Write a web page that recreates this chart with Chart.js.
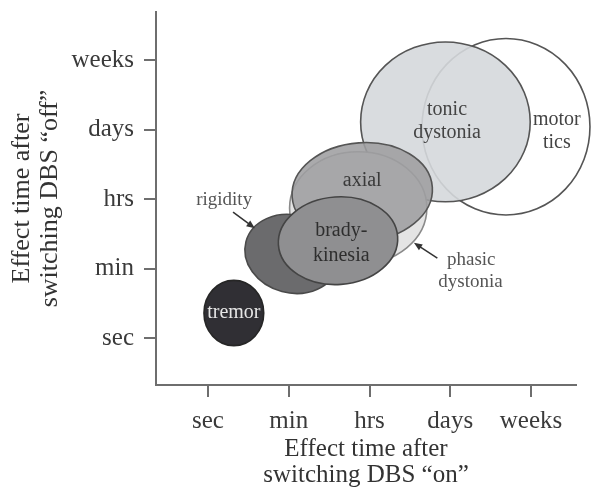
<!DOCTYPE html>
<html>
<head>
<meta charset="utf-8">
<script src="https://cdn.jsdelivr.net/npm/chart.js@4.4.0/dist/chart.umd.min.js"></script>
<style>
  html, body { margin: 0; padding: 0; background: #fff; }
  #wrap { width: 600px; height: 502px; }
</style>
</head>
<body>
<div id="wrap"><canvas id="myChart"></canvas></div>
<script>
// time categories on both axes (0 = sec ... 4 = weeks)
const timeLabels = ['sec', 'min', 'hrs', 'days', 'weeks'];

// symptoms, in drawing order (back to front)
const symptoms = ['motor tics', 'tonic dystonia', 'phasic dystonia', 'axial', 'rigidity', 'bradykinesia', 'tremor'];
const onCenter  = [3.69, 2.94, 1.86, 1.91, 1.04, 1.61, 0.32];   // effect time after "on"
const offCenter = [3.04, 3.11, 1.87, 2.10, 1.21, 1.40, 0.36];   // effect time after "off"
const onSpread  = [1.04, 1.05, 0.85, 0.87, 0.59, 0.74, 0.37];
const offSpread = [1.27, 1.15, 0.81, 0.71, 0.56, 0.63, 0.47];
const tiltDeg   = [0, 0, 0, -4, 15, -4, 0];

// text labels inside / next to the ellipses
const labelText = ['motor', 'tics', 'tonic', 'dystonia', 'axial', 'brady-', 'kinesia', 'tremor', 'rigidity', 'phasic', 'dystonia'];
const labelOn   = [4.32, 4.32, 2.96, 2.96, 1.91, 1.65, 1.65, 0.32, 0.20, 3.26, 3.25];
const labelOff  = [3.14, 2.81, 3.28, 2.95, 2.27, 1.54, 1.19, 0.36, 1.99, 1.12, 0.81];

// arrows: [fromOn, fromOff, toOn, toOff]
const arrows = [
  [0.31, 1.81, 0.58, 1.58],
  [2.84, 1.15, 2.55, 1.37]
];

const fills   = ['#ffffff', 'rgba(213,216,220,0.9)', '#e4e4e4', 'rgba(158,158,160,0.88)', '#6b6b6d', '#8f8f91', '#302f34'];
const strokes = ['#555555', '#555555', '#8a8a8a', '#555555', '#4a4a4a', '#444444', '#262626'];
const labelColors = ['#444444', '#444444', '#444444', '#444444', '#3a3a3a', '#2e2e2e', '#2e2e2e', '#e6e6e6', '#555555', '#555555', '#555555'];

const serif = 'Liberation Serif';
const axisColor = '#6e6e6e';

const ellipsePlugin = {
  id: 'ellipses',
  beforeDatasetsDraw(chart) {
    const { ctx, scales: { x, y } } = chart;
    symptoms.forEach((name, i) => {
      const cx = x.getPixelForValue(onCenter[i]);
      const cy = y.getPixelForValue(offCenter[i]);
      const rx = x.getPixelForValue(onCenter[i] + onSpread[i]) - cx;
      const ry = cy - y.getPixelForValue(offCenter[i] + offSpread[i]);
      ctx.save();
      ctx.beginPath();
      ctx.ellipse(cx, cy, rx, ry, tiltDeg[i] * Math.PI / 180, 0, 2 * Math.PI);
      ctx.fillStyle = fills[i];
      ctx.fill();
      ctx.lineWidth = 1.6;
      ctx.strokeStyle = strokes[i];
      ctx.stroke();
      ctx.restore();
    });
  },
  afterDatasetsDraw(chart) {
    const { ctx, scales: { x, y } } = chart;
    ctx.save();
    ctx.textAlign = 'center';
    ctx.textBaseline = 'middle';
    labelText.forEach((t, i) => {
      const small = i >= 8;
      ctx.font = (small ? '19px ' : '20px ') + serif;
      ctx.fillStyle = labelColors[i];
      ctx.fillText(t, x.getPixelForValue(labelOn[i]), y.getPixelForValue(labelOff[i]));
    });
    // arrows
    ctx.strokeStyle = '#333';
    ctx.fillStyle = '#333';
    ctx.lineWidth = 1.5;
    arrows.forEach(a => {
      const x1 = x.getPixelForValue(a[0]), y1 = y.getPixelForValue(a[1]);
      const x2 = x.getPixelForValue(a[2]), y2 = y.getPixelForValue(a[3]);
      const ang = Math.atan2(y2 - y1, x2 - x1);
      ctx.beginPath();
      ctx.moveTo(x1, y1);
      ctx.lineTo(x2 - 6 * Math.cos(ang), y2 - 6 * Math.sin(ang));
      ctx.stroke();
      ctx.beginPath();
      ctx.moveTo(x2, y2);
      ctx.lineTo(x2 - 9 * Math.cos(ang - 0.4), y2 - 9 * Math.sin(ang - 0.4));
      ctx.lineTo(x2 - 9 * Math.cos(ang + 0.4), y2 - 9 * Math.sin(ang + 0.4));
      ctx.closePath();
      ctx.fill();
    });
    ctx.restore();
  }
};

const fixedTicks = scale => { scale.ticks = timeLabels.map((l, i) => ({ value: i })); };
const noEdgePadding = scale => {
  scale.paddingTop = 0; scale.paddingBottom = 0;
  scale.paddingLeft = 0; scale.paddingRight = 0;
};

new Chart(document.getElementById('myChart'), {
  type: 'scatter',
  data: {
    datasets: [{
      label: 'symptoms',
      data: symptoms.map((s, i) => ({ x: onCenter[i], y: offCenter[i] })),
      pointRadius: 0,
      pointHoverRadius: 0
    }]
  },
  plugins: [ellipsePlugin],
  options: {
    responsive: true,
    maintainAspectRatio: false,
    animation: false,
    layout: { padding: { top: 12, right: 24, left: 0, bottom: 0 } },
    plugins: {
      legend: { display: false },
      tooltip: { enabled: false }
    },
    scales: {
      x: {
        type: 'linear',
        min: -0.644,
        max: 4.557,
        afterBuildTicks: fixedTicks,
        afterFit: scale => { scale.height = 117; noEdgePadding(scale); },
        ticks: {
          autoSkip: false,
          maxRotation: 0,
          padding: 9,
          color: '#3a3a3a',
          font: { family: serif, size: 25 },
          callback: v => timeLabels[v]
        },
        grid: { drawOnChartArea: false, tickLength: 12, color: axisColor, lineWidth: 2 },
        border: { display: true, color: axisColor, width: 2 },
        title: {
          display: true,
          text: ['Effect time after', 'switching DBS \u201con\u201d'],
          color: '#333',
          font: { family: serif, size: 25, lineHeight: 1.05 },
          padding: { top: 0, bottom: 13 }
        }
      },
      y: {
        type: 'linear',
        min: -0.676,
        max: 4.691,
        afterBuildTicks: fixedTicks,
        afterFit: scale => { scale.width = 156; noEdgePadding(scale); },
        ticks: {
          autoSkip: false,
          padding: 10,
          color: '#3a3a3a',
          font: { family: serif, size: 25 },
          callback: v => timeLabels[v]
        },
        grid: { drawOnChartArea: false, tickLength: 12, color: axisColor, lineWidth: 2 },
        border: { display: true, color: axisColor, width: 2 },
        title: {
          display: true,
          text: ['Effect time after', 'switching DBS \u201coff\u201d'],
          color: '#333',
          font: { family: serif, size: 26, lineHeight: 1.05 },
          padding: { top: 9, bottom: 0 }
        }
      }
    }
  }
});
</script>
</body>
</html>
